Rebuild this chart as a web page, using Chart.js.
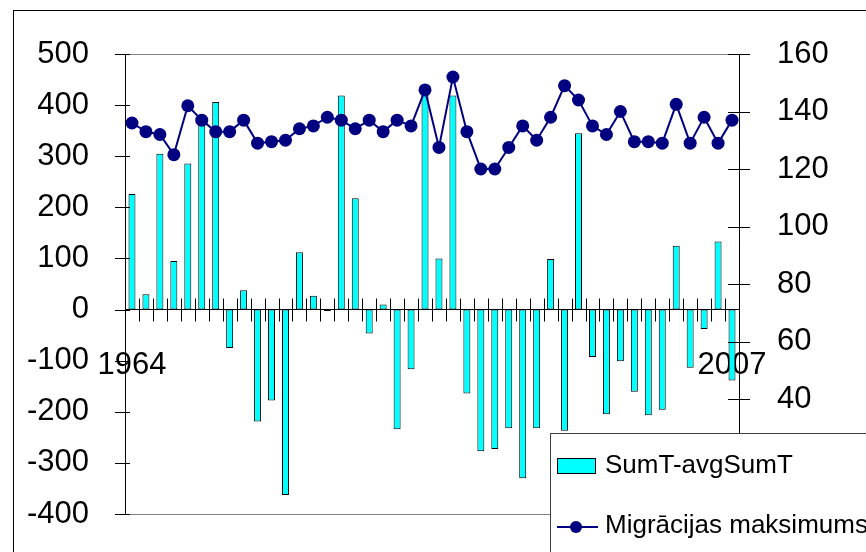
<!DOCTYPE html>
<html><head><meta charset="utf-8">
<script src="https://cdn.jsdelivr.net/npm/chart.js@4.4.1/dist/chart.umd.min.js"></script>
<style>html,body{margin:0;padding:0;background:#fff;overflow:hidden}#wrap{position:relative;width:866px;height:552px}</style>
</head><body><div id="wrap"><canvas id="c" width="866" height="552"></canvas></div>
<script>
const years = ['1964','1965','1966','1967','1968','1969','1970','1971','1972','1973',
  '1974','1975','1976','1977','1978','1979','1980','1981','1982','1983',
  '1984','1985','1986','1987','1988','1989','1990','1991','1992','1993',
  '1994','1995','1996','1997','1998','1999','2000','2001','2002','2003',
  '2004','2005','2006','2007'];
const sumDeviation = [226,30,305,95,286,362,406,-75,38,-219,
  -178,-363,112,27,-3,419,218,-47,10,-234,
  -117,420,100,419,-164,-277,-273,-232,-330,-232,
  99,-237,345,-93,-205,-101,-161,-207,-196,125,
  -114,-38,133,-139];
const migrationMax = [136,133,132,125,142,137,133,133,137,129,
  129.5,130,134,135,138,137,134,137,133,137,
  135,147.5,127.5,152,133,120,120,127.5,135,130,
  138,149,144,135,132,140,129.5,129.5,129,142.5,
  129,138,129,137];
const shownYearLabels = ['1964','2007'];
const seriesNames = ['SumT-avgSumT','Migrācijas maksimums'];
const leftAxis = {min:-400, max:500, step:100};
const rightAxis = {min:0, max:160, step:20};

const FONT = '"Liberation Sans", Arial, sans-serif';

const decor = {
  id:'decor',
  beforeDraw(chart){
    const ctx = chart.ctx;
    ctx.save();
    ctx.fillStyle='#fff';
    ctx.fillRect(0,0,chart.width,chart.height);
    ctx.strokeStyle='#000'; ctx.lineWidth=1;
    ctx.strokeRect(13.5,10.5,chart.width+20,chart.height+20);
    const a = chart.chartArea;
    ctx.strokeStyle='#808080';
    ctx.beginPath();
    ctx.moveTo(a.left, Math.round(a.top)+0.5); ctx.lineTo(a.right, Math.round(a.top)+0.5);
    ctx.moveTo(a.left, Math.round(a.bottom)+0.5); ctx.lineTo(a.right, Math.round(a.bottom)+0.5);
    ctx.stroke();
    ctx.restore();
  },
  afterDraw(chart){
    const ctx = chart.ctx;
    const xs = chart.scales.x, yl = chart.scales.y, yr = chart.scales.y1;
    ctx.save();
    ctx.strokeStyle='#000'; ctx.lineWidth=1;
    ctx.beginPath();
    const zeroY = Math.round(yl.getPixelForValue(0))+0.5;
    const n = years.length;
    for(let k=0;k<=n;k++){
      const x = Math.round(xs.left + k*(xs.width/n))+0.5;
      ctx.moveTo(x, zeroY-12); ctx.lineTo(x, zeroY+11);
    }
    yl.ticks.forEach(t=>{
      const y = Math.round(yl.getPixelForValue(t.value))+0.5;
      ctx.moveTo(yl.right-10,y); ctx.lineTo(yl.right+5,y);
    });
    yr.ticks.forEach(t=>{
      const y = Math.round(yr.getPixelForValue(t.value))+0.5;
      ctx.moveTo(yr.left-11,y); ctx.lineTo(yr.left+11,y);
    });
    ctx.stroke();

    // legend
    const barDs = chart.data.datasets.find(d=>d.type==='bar');
    const lineDs = chart.data.datasets.find(d=>d.type==='line');
    const lx=550, ly=433;
    ctx.fillStyle='#fff';
    ctx.fillRect(lx,ly,chart.width,chart.height);
    ctx.strokeStyle='#404040';
    ctx.strokeRect(lx+0.5,ly+0.5,chart.width,chart.height);
    ctx.fillStyle=barDs.backgroundColor;
    ctx.fillRect(557,458,38,15);
    ctx.strokeStyle='#000';
    ctx.strokeRect(557.5,458.5,38,15);
    ctx.strokeStyle=lineDs.borderColor; ctx.lineWidth=2;
    ctx.beginPath(); ctx.moveTo(557,527); ctx.lineTo(598,527); ctx.stroke();
    ctx.fillStyle=lineDs.pointBackgroundColor;
    ctx.beginPath(); ctx.arc(576,527,6,0,Math.PI*2); ctx.fill();
    ctx.fillStyle='#000';
    ctx.font='26px '+FONT;
    ctx.textBaseline='middle'; ctx.textAlign='left';
    ctx.fillText(barDs.label,605,466);
    ctx.fillText(lineDs.label,605,526);
    ctx.restore();
  }
};

new Chart(document.getElementById('c'),{
  data:{
    labels: years,
    datasets:[
      {type:'line', label:seriesNames[1], data:migrationMax, yAxisID:'y1', order:0,
       borderColor:'#000080', backgroundColor:'#000080', pointBackgroundColor:'#000080',
       pointBorderColor:'#000080', borderWidth:2, pointRadius:6.5, pointBorderWidth:0, tension:0},
      {type:'bar', label:seriesNames[0], data:sumDeviation, yAxisID:'y', order:1,
       backgroundColor:'#00FFFF', borderColor:'#000', borderWidth:1, borderSkipped:false,
       barPercentage:0.5, categoryPercentage:1.0}
    ]
  },
  options:{
    responsive:false, animation:false, devicePixelRatio:1,
    layout:{padding:{top:54,bottom:38,left:0,right:0}},
    plugins:{legend:{display:false}, tooltip:{enabled:false}},
    scales:{
      x:{type:'category', position:{y:0}, offset:true,
         grid:{display:false}, border:{display:true,color:'#000',width:1},
         ticks:{autoSkip:false, maxRotation:0, minRotation:0, padding:29, color:'#000',
           font:{family:FONT,size:31},
           callback:function(v,i){const l=this.getLabelForValue(v); return shownYearLabels.includes(l)?l:'';}},
         afterFit(s){s.paddingLeft=0;s.paddingRight=0;}},
      y:{position:'left', min:leftAxis.min, max:leftAxis.max,
         grid:{display:false}, border:{display:true,color:'#000',width:1},
         ticks:{stepSize:leftAxis.step, padding:28, color:'#000', font:{family:FONT,size:31}},
         afterFit(s){s.width=125;s.paddingTop=0;s.paddingBottom=0;}},
      y1:{position:'right', min:rightAxis.min, max:rightAxis.max,
         grid:{display:false}, border:{display:true,color:'#000',width:1},
         ticks:{stepSize:rightAxis.step, padding:30, color:'#000', font:{family:FONT,size:31}},
         afterFit(s){s.width=127;s.paddingTop=0;s.paddingBottom=0;}}
    }
  },
  plugins:[decor]
});
</script></body></html>
